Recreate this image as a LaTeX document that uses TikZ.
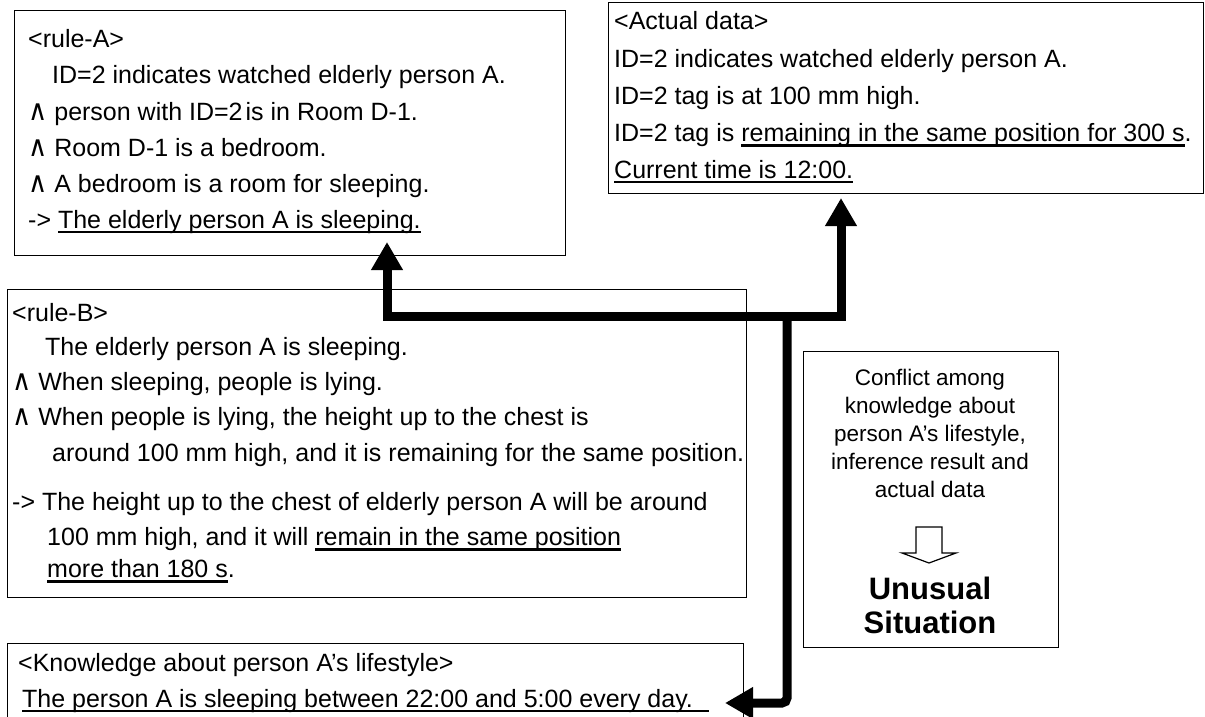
\documentclass[tikz,border=0pt]{standalone}
\usepackage{graphicx}
\usepackage{fontspec}
\setmainfont{Liberation Sans}
\newfontfamily\symfont{DejaVu Sans}
\usetikzlibrary{arrows.meta}

% underlines drawn as rules under the measured text
\newcommand\ulthin[1]{\setbox0\hbox{#1}\rlap{\rule[-4.5pt]{\wd0}{1.4pt}}\box0}
\newcommand\ulthick[1]{\setbox0\hbox{#1}\rlap{\rule[-5.5pt]{\wd0}{2.6pt}}\box0}
\newcommand\andsym{\scalebox{1.05}[1.15]{\symfont ∧}}

\begin{document}
\begin{tikzpicture}[x=1pt,y=-1pt,
  box/.style={draw, line width=1.2pt, inner sep=0pt, anchor=north west},
  txt/.style={anchor=base west, inner sep=0pt, font=\fontsize{25}{30}\selectfont},
  ctxt/.style={anchor=base, inner sep=0pt, font=\fontsize{22.5}{27}\selectfont},
  btxt/.style={anchor=base, inner sep=0pt, font=\fontsize{31}{36}\selectfont\bfseries},
  conn/.style={line width=9pt},
  bigtip/.tip={Triangle[width=30pt,length=28pt]}]
\useasboundingbox (0,0) rectangle (1205,717);
\clip (0,0) rectangle (1205,717);

% boxes
\node[box, minimum width=551pt, minimum height=245pt] (ruleA) at (14,10) {};
\node[box, minimum width=595pt, minimum height=191pt] (actual) at (608,2) {};
\node[box, minimum width=739pt, minimum height=308pt] (ruleB) at (7,289) {};
\node[box, minimum width=736pt, minimum height=90pt] (know) at (7,643) {};
\node[box, minimum width=255pt, minimum height=296pt] (confl) at (803,351) {};

% rule-A
\node[txt] (a1) at (28,48) {<rule-A>};
\node[txt] (a2) at (52,84) {ID=2 indicates watched elderly person A.};
\node[txt] (a3) at (28,120) {\andsym\ person with ID=2\hspace{3pt}is in Room D-1.};
\node[txt] (a4) at (28,156) {\andsym\ Room D-1 is a bedroom.};
\node[txt] (a5) at (28,192) {\andsym\ A bedroom is a room for sleeping.};
\node[txt] (a6) at (28,228) {-> \ulthin{The elderly person A is sleeping.}};

% actual data
\node[txt] (d1) at (614,30) {<Actual data>};
\node[txt] (d2) at (614,67) {ID=2 indicates watched elderly person A.};
\node[txt] (d3) at (614,104) {ID=2 tag is at 100 mm high.};
\node[txt] (d4) at (614,141) {ID=2 tag is \ulthick{remaining in the same position for 300 s}.};
\node[txt] (d5) at (614,178) {\ulthin{Current time is 12:00.}};

% rule-B
\node[txt] (b1) at (12,321) {<rule-B>};
\node[txt] (b2) at (45,355) {The elderly person A is sleeping.};
\node[txt] (b3) at (12,390) {\andsym\ When sleeping, people is lying.};
\node[txt] (b4) at (12,425) {\andsym\ When people is lying, the height up to the chest is};
\node[txt] (b5) at (52,461) {around 100 mm high, and it is remaining for the same position.};
\node[txt] (b6) at (12,510) {-> The height up to the chest of elderly person A will be around};
\node[txt] (b7) at (47,545) {100 mm high, and it will \ulthick{remain in the same position}};
\node[txt] (b8) at (47,577) {\ulthick{more than 180 s}.};

% lifestyle knowledge
\node[txt] (k1) at (18,671) {<Knowledge about person A’s lifestyle>};
\node[txt] (k2) at (22,707) {\ulthin{The person A is sleeping between 22:00 and 5:00 every day.\hspace{16pt}}};

% conflict
\node[ctxt] (c1) at (930,385) {Conflict among};
\node[ctxt] (c2) at (930,413) {knowledge about};
\node[ctxt] (c3) at (930,441) {person A’s lifestyle,};
\node[ctxt] (c4) at (930,469) {inference result and};
\node[ctxt] (c5) at (930,497) {actual data};
\node[btxt] (u1) at (930,599) {Unusual};
\node[btxt] (u2) at (930,633) {Situation};
\draw[line width=1.2pt, fill=white, line join=miter]
  (916,527) -- (942,527) -- (942,553) -- (956,553) -- (929,563)
  -- (902,553) -- (916,553) -- cycle;

% connectors
\coordinate (tipA) at (387,242);
\coordinate (jA) at (387,316);
\coordinate (jD) at (841,316);
\coordinate (tipD) at (841,198);
\coordinate (jK) at (787,316);
\coordinate (cK) at (787,703);
\coordinate (tipK) at (725,703);
\draw[conn, line join=miter, {bigtip}-{bigtip}] (tipA) -- (jA) -- (jD) -- (tipD);
\draw[conn, rounded corners=5pt, -{bigtip}] (jK) -- (cK) -- (tipK);
\end{tikzpicture}
\end{document}
